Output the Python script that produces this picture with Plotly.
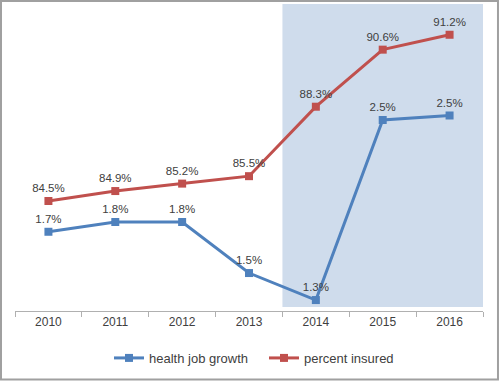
import plotly.graph_objects as go

years = ["2010", "2011", "2012", "2013", "2014", "2015", "2016"]
health_job_growth = [1.735, 1.80, 1.80, 1.46, 1.28, 2.48, 2.51]
percent_insured = [84.5, 84.9, 85.2, 85.5, 88.3, 90.6, 91.2]

blue = "#4f81bd"
red = "#c0504d"
txt = "#404040"
font_family = "Liberation Sans, Arial, sans-serif"

fig = go.Figure()
fig.add_trace(go.Scatter(
    x=years, y=health_job_growth, name="health job growth",
    mode="lines+markers+text", yaxis="y2",
    line=dict(color=blue, width=3),
    marker=dict(symbol="square", size=8, color=blue),
    texttemplate="%{y:.1f}%", textposition="top center",
    textfont=dict(size=11.5, color=txt, family=font_family),
    cliponaxis=False,
))
fig.add_trace(go.Scatter(
    x=years, y=percent_insured, name="percent insured",
    mode="lines+markers+text", yaxis="y",
    line=dict(color=red, width=3),
    marker=dict(symbol="square", size=8, color=red),
    texttemplate="%{y:.1f}%", textposition="top center",
    textfont=dict(size=11.5, color=txt, family=font_family),
    cliponaxis=False,
))

fig.update_layout(
    width=500, height=381,
    margin=dict(l=15, r=17, t=4, b=70),
    paper_bgcolor="white", plot_bgcolor="white",
    font=dict(family=font_family, size=11, color=txt),
    showlegend=True,
    legend=dict(orientation="h", x=0.532, xanchor="center", y=-0.153, yanchor="middle",
                font=dict(size=13, color=txt), itemwidth=30, bgcolor="rgba(0,0,0,0)",
                entrywidth=110, entrywidthmode="pixels"),
    xaxis=dict(type="category", range=[-0.5, 6.5], showgrid=False,
               showline=True, linecolor="#b0b0b0", linewidth=1,
               ticks="outside", tickson="boundaries", ticklen=5, tickcolor="#b0b0b0",
               tickfont=dict(size=12, color=txt), zeroline=False),
    yaxis=dict(range=[80.065, 92.44], visible=False, showgrid=False, zeroline=False),
    yaxis2=dict(range=[1.207, 3.253], overlaying="y", visible=False, showgrid=False, zeroline=False),
    shapes=[
        dict(type="rect", xref="x", yref="paper", x0=3.5, x1=6.5, y0=0.013, y1=1.0,
             fillcolor="#cfdcec", line=dict(width=0), layer="below"),
        dict(type="rect", xref="paper", yref="paper", x0=-0.0299, x1=1.032, y0=-0.223, y1=1.0098,
             line=dict(color="#a0a0a0", width=2), fillcolor="rgba(0,0,0,0)"),
    ],
)

fig.write_html("out.html", config={"displayModeBar": False},
               post_script="document.body.style.margin='0px';document.body.style.overflow='hidden';")
